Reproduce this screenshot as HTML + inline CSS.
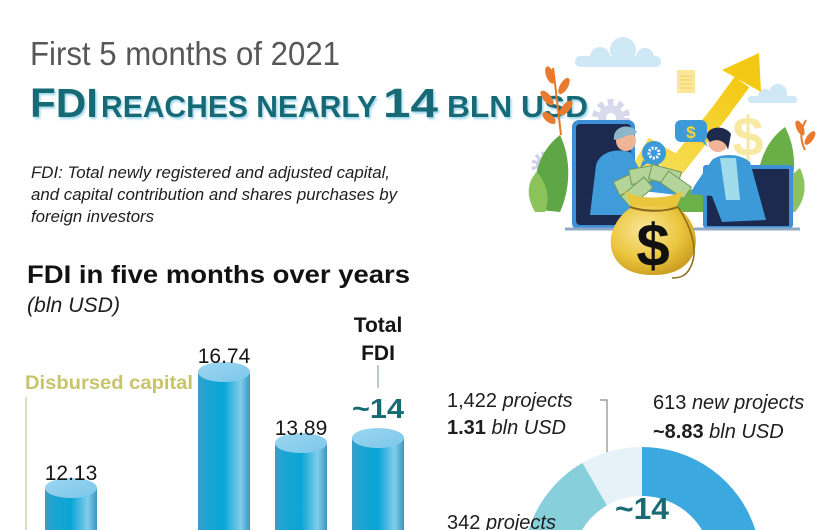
<!DOCTYPE html>
<html><head><meta charset="utf-8"><style>
html,body{margin:0;padding:0;background:#fff;}
body{width:825px;height:530px;overflow:hidden;}
svg{display:block;font-family:"Liberation Sans",sans-serif;}
</style></head><body>
<svg width="825" height="530" viewBox="0 0 825 530" xmlns="http://www.w3.org/2000/svg">
<defs>
<clipPath id="frame"><rect x="0" y="0" width="825" height="530"/></clipPath>
<filter id="glow" x="-5%" y="-20%" width="110%" height="150%">
<feDropShadow dx="1.5" dy="2" stdDeviation="1" flood-color="#9fd6ee" flood-opacity="1"/>
</filter>
<linearGradient id="bar" x1="0" x2="1" y1="0" y2="0">
<stop offset="0" stop-color="#3d9cc6"/>
<stop offset="0.15" stop-color="#1ea4d2"/>
<stop offset="0.5" stop-color="#08a6d6"/>
<stop offset="0.72" stop-color="#5cc0e5"/>
<stop offset="0.82" stop-color="#80ceeb"/>
<stop offset="1" stop-color="#3a96c2"/>
</linearGradient>
<linearGradient id="topc" x1="0" x2="1" y1="0" y2="1">
<stop offset="0" stop-color="#9cd7f1"/>
<stop offset="1" stop-color="#7cc6ea"/>
</linearGradient>
<radialGradient id="bag" cx="0.4" cy="0.35" r="0.7">
<stop offset="0" stop-color="#fbe79a"/>
<stop offset="0.6" stop-color="#ebc63e"/>
<stop offset="1" stop-color="#c99a1e"/>
</radialGradient>
<linearGradient id="arr" x1="0" x2="1" y1="1" y2="0">
<stop offset="0" stop-color="#f8e46a"/>
<stop offset="1" stop-color="#f3c914"/>
</linearGradient>
</defs>
<g clip-path="url(#frame)">

<text x="30" y="65" font-size="33" fill="#575757" textLength="310" lengthAdjust="spacingAndGlyphs">First 5 months of 2021</text>
<g filter="url(#glow)" fill="#126a74" font-weight="bold">
<text x="30" y="117" font-size="41" textLength="68" lengthAdjust="spacingAndGlyphs">FDI</text>
<text x="101" y="117" font-size="31" textLength="276" lengthAdjust="spacingAndGlyphs">REACHES NEARLY</text>
<text x="383" y="117" font-size="41" textLength="55" lengthAdjust="spacingAndGlyphs">14</text>
<text x="447" y="117" font-size="31" textLength="141" lengthAdjust="spacingAndGlyphs">BLN USD</text>
</g>

<g font-size="17" font-style="italic" fill="#1e1e1e">
<text x="31" y="178" textLength="359" lengthAdjust="spacingAndGlyphs">FDI: Total newly registered and adjusted capital,</text>
<text x="31" y="200" textLength="366" lengthAdjust="spacingAndGlyphs">and capital contribution and shares purchases by</text>
<text x="31" y="222" textLength="123" lengthAdjust="spacingAndGlyphs">foreign investors</text>
</g>

<text x="27" y="283" font-size="25" font-weight="bold" fill="#111" textLength="383" lengthAdjust="spacingAndGlyphs">FDI in five months over years</text>
<text x="27" y="312" font-size="21" font-style="italic" fill="#1e1e1e" textLength="93" lengthAdjust="spacingAndGlyphs">(bln USD)</text>

<g>
<g fill="#cfe8f5">
<rect x="575" y="56" width="86" height="11" rx="5"/>
<circle cx="600" cy="57" r="10"/>
<circle cx="623" cy="50" r="13"/>
<circle cx="645" cy="57" r="9"/>
<rect x="748" y="96" width="49" height="7" rx="3"/>
<circle cx="765" cy="96" r="7"/>
<circle cx="778" cy="93" r="9"/>
</g>
<path d="M561,135 C558,110 556,90 553,68" stroke="#e6782c" stroke-width="2" fill="none"/>
<g fill="#e97a2e">
<ellipse cx="550" cy="75" rx="4" ry="9" transform="rotate(-20 550 75)"/>
<ellipse cx="564" cy="86" rx="4" ry="9" transform="rotate(30 564 86)"/>
<ellipse cx="547" cy="98" rx="4" ry="9" transform="rotate(-40 547 98)"/>
<ellipse cx="566" cy="108" rx="4" ry="9" transform="rotate(40 566 108)"/>
<ellipse cx="549" cy="118" rx="4" ry="8" transform="rotate(-50 549 118)"/>
</g>
<circle cx="611" cy="118" r="14" fill="none" stroke="#d6d7ea" stroke-width="10" stroke-dasharray="5 4"/>
<circle cx="611" cy="118" r="13" fill="#d9dbec"/>
<circle cx="611" cy="118" r="5" fill="#fff"/>
<circle cx="545" cy="165" r="9" fill="#cfd1e6"/>
<circle cx="545" cy="165" r="11" fill="none" stroke="#cfd1e6" stroke-width="5" stroke-dasharray="3 3"/>
<circle cx="545" cy="165" r="3" fill="#fff"/>
<path d="M540,210 C528,180 540,150 560,135 C572,160 570,190 560,212 Z" fill="#5fa646"/>
<path d="M535,212 C525,195 528,180 537,172 C548,185 550,200 545,212 Z" fill="#8cc35a"/>
<path d="M762,210 C752,180 760,145 785,127 C800,155 795,190 780,212 Z" fill="#6aae48"/>
<path d="M785,212 C780,190 790,175 800,168 C808,185 805,200 795,212 Z" fill="#8cc35a"/>
<path d="M805,150 C800,140 800,130 806,120" stroke="#e6782c" stroke-width="2" fill="none"/>
<ellipse cx="800" cy="128" rx="3.5" ry="8" transform="rotate(-25 800 128)" fill="#e97a2e"/>
<ellipse cx="810" cy="138" rx="3.5" ry="8" transform="rotate(35 810 138)" fill="#e97a2e"/>
<path d="M660,212 C670,195 690,185 710,190 L710,212 Z" fill="#6cb04a"/>
<rect x="677" y="70" width="18" height="23" fill="#fbe79a"/>
<g stroke="#f2cf5a" stroke-width="1"><line x1="680" y1="76" x2="692" y2="76"/><line x1="680" y1="80" x2="692" y2="80"/><line x1="680" y1="84" x2="692" y2="84"/><line x1="680" y1="88" x2="692" y2="88"/></g>
<text x="748" y="156" font-size="56" font-weight="bold" fill="#f7e8a2" text-anchor="middle">$</text>
<polyline points="628,190 652,150 678,165 720,112 742,82" fill="none" stroke="url(#arr)" stroke-width="18" stroke-linejoin="miter"/>
<polygon points="759,53 761,92 722,70" fill="#f3c914"/>
<rect x="572" y="120" width="63" height="110" rx="7" fill="#3d8fd6"/>
<rect x="576" y="124" width="55" height="101" rx="4" fill="#1c2a4f"/>
<rect x="703" y="165" width="90" height="63" rx="3" fill="#3d8fd6"/>
<rect x="707" y="169" width="82" height="57" fill="#1c2a4f"/>
<line x1="565" y1="229" x2="800" y2="229" stroke="#8fa8c8" stroke-width="3"/>
<path d="M590,215 L596,165 C600,152 615,148 630,152 L640,170 L690,186 L686,196 L634,190 L632,215 Z" fill="#3f9bd9"/>
<circle cx="626" cy="141" r="10" fill="#f0b497"/>
<path d="M614,140 C612,126 630,122 637,132 C634,136 628,134 622,138 Z" fill="#8db7c9"/>
<circle cx="654" cy="153" r="12" fill="#3d9ad8"/>
<path d="M643,160 L640,168 L648,163 Z" fill="#3d9ad8"/>
<circle cx="654" cy="153" r="5" fill="none" stroke="#fff" stroke-width="3" stroke-dasharray="2 1.5"/>
<rect x="675" y="120" width="32" height="22" rx="6" fill="#3d9ad8"/>
<path d="M700,140 L708,147 L703,138 Z" fill="#3d9ad8"/>
<text x="691" y="138" font-size="17" font-weight="bold" fill="#f6d63a" text-anchor="middle">$</text>
<path d="M695,185 L712,160 C720,153 740,153 750,162 L766,220 L722,222 L712,196 L690,194 Z" fill="#3d9ad8"/>
<path d="M720,158 L736,158 L740,200 L726,200 Z" fill="#9fdbea"/>
<circle cx="718" cy="142" r="10" fill="#f0b497"/>
<path d="M707,138 C705,126 725,124 731,134 L728,150 C726,140 716,138 710,142 Z" fill="#1e2a4c"/>
<g fill="#b5d49a" stroke="#6f9a5a" stroke-width="1">
<rect x="615" y="175" width="30" height="15" transform="rotate(-25 630 182)"/>
<rect x="630" y="167" width="30" height="15" transform="rotate(-10 645 175)"/>
<rect x="650" y="168" width="30" height="15" transform="rotate(15 665 175)"/>
<rect x="662" y="178" width="28" height="14" transform="rotate(35 676 185)"/>
<rect x="622" y="185" width="30" height="14" transform="rotate(-40 637 192)"/>
</g>
<path d="M624,190 C635,200 670,200 684,190 L676,208 L632,208 Z" fill="#e9c63c"/>
<path d="M633,206 C598,228 604,276 653,275 C702,276 708,228 676,206 Z" fill="url(#bag)"/>
<path d="M630,207 C645,212 665,212 678,207" stroke="#8a6a1a" stroke-width="2" fill="none"/>
<path d="M678,207 C690,225 700,250 690,268 C686,276 680,278 672,278" stroke="#8a6a1a" stroke-width="1.5" fill="none"/>
<text x="653" y="266" font-size="60" font-weight="bold" fill="#111" text-anchor="middle">$</text>
</g>

<text x="25" y="389" font-size="19" font-weight="bold" fill="#c8c46c" textLength="168" lengthAdjust="spacingAndGlyphs">Disbursed capital</text>
<line x1="26" y1="397" x2="26" y2="530" stroke="#d8d39a" stroke-width="1.5"/>

<g>
<rect x="45" y="488" width="52" height="42" fill="url(#bar)"/>
<ellipse cx="71" cy="488" rx="26" ry="10" fill="url(#topc)"/>
<rect x="198" y="372" width="52" height="158" fill="url(#bar)"/>
<ellipse cx="224" cy="372" rx="26" ry="10" fill="url(#topc)"/>
<rect x="275" y="443" width="52" height="87" fill="url(#bar)"/>
<ellipse cx="301" cy="443" rx="26" ry="10" fill="url(#topc)"/>
<rect x="352" y="438" width="52" height="92" fill="url(#bar)"/>
<ellipse cx="378" cy="438" rx="26" ry="10" fill="url(#topc)"/>
</g>
<g font-size="21" fill="#151515" text-anchor="middle">
<text x="71" y="480">12.13</text>
<text x="224" y="363">16.74</text>
<text x="301" y="435">13.89</text>
</g>
<text x="378" y="332" font-size="21" font-weight="bold" fill="#151515" text-anchor="middle">Total</text>
<text x="378" y="360" font-size="21" font-weight="bold" fill="#151515" text-anchor="middle">FDI</text>
<line x1="378" y1="365" x2="378" y2="388" stroke="#7fa9b0" stroke-width="1.2"/>
<text x="378" y="418" font-size="28" font-weight="bold" fill="#136b74" text-anchor="middle" textLength="52" lengthAdjust="spacingAndGlyphs">~14</text>

<path d="M642,447 A119,119 0 0 1 755.4,530 L702,530 A70,70 0 0 0 642,496 Z" fill="#3ba9e0"/>
<path d="M528.6,530 A119,119 0 0 1 582.5,462.9 L607,505.4 A70,70 0 0 0 582,530 Z" fill="#88cfdc"/>
<path d="M582.5,462.9 A119,119 0 0 1 642,447 L642,496 A70,70 0 0 0 607,505.4 Z" fill="#e5f3f9"/>
<text x="642" y="519" font-size="31" font-weight="bold" fill="#186b73" text-anchor="middle" textLength="54" lengthAdjust="spacingAndGlyphs">~14</text>

<polyline points="600,400 607,400 607,452" fill="none" stroke="#888" stroke-width="1.2"/>

<g font-size="20" fill="#1e1e1e">
<text x="447" y="407">1,422 <tspan font-style="italic">projects</tspan></text>
<text x="447" y="434"><tspan font-weight="bold">1.31</tspan> <tspan font-style="italic">bln USD</tspan></text>
<text x="653" y="409">613 <tspan font-style="italic">new projects</tspan></text>
<text x="653" y="438"><tspan font-weight="bold">~8.83</tspan> <tspan font-style="italic">bln USD</tspan></text>
<text x="447" y="529">342 <tspan font-style="italic">projects</tspan></text>
</g>
</g>
</svg>
</body></html>
